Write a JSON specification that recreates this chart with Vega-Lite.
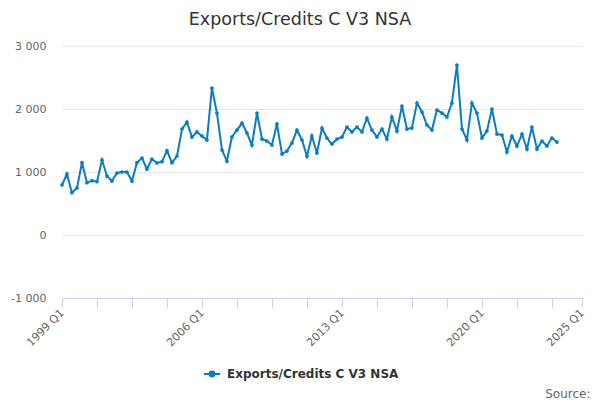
{
  "$schema": "https://vega.github.io/schema/vega-lite/v6.json",
  "autosize": "none",
  "width": 520,
  "height": 252,
  "padding": {"left": 62, "top": 46, "right": 18, "bottom": 102},
  "background": "#ffffff",
  "title": {
    "text": "Exports/Credits C V3 NSA",
    "anchor": "middle",
    "dx": -22,
    "offset": 12,
    "font": "DejaVu Sans",
    "fontSize": 17.5,
    "fontWeight": "normal",
    "color": "#333333"
  },
  "config": {
    "view": {"stroke": null},
    "font": "DejaVu Sans"
  },
  "data": {
    "values": [
      {"date": "1999-01-01", "value": 794},
      {"date": "1999-04-01", "value": 968},
      {"date": "1999-07-01", "value": 671},
      {"date": "1999-10-01", "value": 746},
      {"date": "2000-01-01", "value": 1147},
      {"date": "2000-04-01", "value": 830},
      {"date": "2000-07-01", "value": 862},
      {"date": "2000-10-01", "value": 846},
      {"date": "2001-01-01", "value": 1190},
      {"date": "2001-04-01", "value": 936},
      {"date": "2001-07-01", "value": 857},
      {"date": "2001-10-01", "value": 984},
      {"date": "2002-01-01", "value": 1000},
      {"date": "2002-04-01", "value": 1000},
      {"date": "2002-07-01", "value": 857},
      {"date": "2002-10-01", "value": 1147},
      {"date": "2003-01-01", "value": 1222},
      {"date": "2003-04-01", "value": 1047},
      {"date": "2003-07-01", "value": 1206},
      {"date": "2003-10-01", "value": 1143},
      {"date": "2004-01-01", "value": 1163},
      {"date": "2004-04-01", "value": 1338},
      {"date": "2004-07-01", "value": 1147},
      {"date": "2004-10-01", "value": 1254},
      {"date": "2005-01-01", "value": 1682},
      {"date": "2005-04-01", "value": 1793},
      {"date": "2005-07-01", "value": 1555},
      {"date": "2005-10-01", "value": 1635},
      {"date": "2006-01-01", "value": 1571},
      {"date": "2006-04-01", "value": 1508},
      {"date": "2006-07-01", "value": 2333},
      {"date": "2006-10-01", "value": 1936},
      {"date": "2007-01-01", "value": 1349},
      {"date": "2007-04-01", "value": 1174},
      {"date": "2007-07-01", "value": 1555},
      {"date": "2007-10-01", "value": 1666},
      {"date": "2008-01-01", "value": 1777},
      {"date": "2008-04-01", "value": 1619},
      {"date": "2008-07-01", "value": 1428},
      {"date": "2008-10-01", "value": 1936},
      {"date": "2009-01-01", "value": 1523},
      {"date": "2009-04-01", "value": 1492},
      {"date": "2009-07-01", "value": 1428},
      {"date": "2009-10-01", "value": 1762},
      {"date": "2010-01-01", "value": 1285},
      {"date": "2010-04-01", "value": 1333},
      {"date": "2010-07-01", "value": 1460},
      {"date": "2010-10-01", "value": 1666},
      {"date": "2011-01-01", "value": 1508},
      {"date": "2011-04-01", "value": 1250},
      {"date": "2011-07-01", "value": 1571},
      {"date": "2011-10-01", "value": 1301},
      {"date": "2012-01-01", "value": 1698},
      {"date": "2012-04-01", "value": 1539},
      {"date": "2012-07-01", "value": 1444},
      {"date": "2012-10-01", "value": 1523},
      {"date": "2013-01-01", "value": 1555},
      {"date": "2013-04-01", "value": 1714},
      {"date": "2013-07-01", "value": 1635},
      {"date": "2013-10-01", "value": 1714},
      {"date": "2014-01-01", "value": 1635},
      {"date": "2014-04-01", "value": 1857},
      {"date": "2014-07-01", "value": 1666},
      {"date": "2014-10-01", "value": 1555},
      {"date": "2015-01-01", "value": 1682},
      {"date": "2015-04-01", "value": 1523},
      {"date": "2015-07-01", "value": 1873},
      {"date": "2015-10-01", "value": 1650},
      {"date": "2016-01-01", "value": 2047},
      {"date": "2016-04-01", "value": 1682},
      {"date": "2016-07-01", "value": 1698},
      {"date": "2016-10-01", "value": 2095},
      {"date": "2017-01-01", "value": 1952},
      {"date": "2017-04-01", "value": 1746},
      {"date": "2017-07-01", "value": 1666},
      {"date": "2017-10-01", "value": 1984},
      {"date": "2018-01-01", "value": 1936},
      {"date": "2018-04-01", "value": 1873},
      {"date": "2018-07-01", "value": 2095},
      {"date": "2018-10-01", "value": 2698},
      {"date": "2019-01-01", "value": 1682},
      {"date": "2019-04-01", "value": 1508},
      {"date": "2019-07-01", "value": 2095},
      {"date": "2019-10-01", "value": 1936},
      {"date": "2020-01-01", "value": 1539},
      {"date": "2020-04-01", "value": 1650},
      {"date": "2020-07-01", "value": 2000},
      {"date": "2020-10-01", "value": 1603},
      {"date": "2021-01-01", "value": 1587},
      {"date": "2021-04-01", "value": 1317},
      {"date": "2021-07-01", "value": 1571},
      {"date": "2021-10-01", "value": 1412},
      {"date": "2022-01-01", "value": 1603},
      {"date": "2022-04-01", "value": 1365},
      {"date": "2022-07-01", "value": 1714},
      {"date": "2022-10-01", "value": 1365},
      {"date": "2023-01-01", "value": 1492},
      {"date": "2023-04-01", "value": 1412},
      {"date": "2023-07-01", "value": 1539},
      {"date": "2023-10-01", "value": 1476}
    ]
  },
  "mark": {
    "type": "line",
    "strokeWidth": 2,
    "point": {"filled": true, "size": 14, "color": "#0a7cc1"}
  },
  "encoding": {
    "x": {
      "field": "date",
      "type": "temporal",
      "scale": {
        "type": "utc",
        "domain": [
          {"year": 1999, "month": 1, "date": 1, "utc": true},
          {"year": 2025, "month": 1, "date": 1, "utc": true}
        ]
      },
      "axis": {
        "title": "Source:",
        "titleAnchor": "end",
        "titleAlign": "right",
        "titleBaseline": "alphabetic",
        "titleX": 528,
        "titleY": 99,
        "titleFontSize": 12,
        "titleFontWeight": "normal",
        "titleColor": "#666666",
        "values": [
          {"year": 1999, "month": 1, "date": 1, "utc": true},
          {"year": 2000, "month": 10, "date": 1, "utc": true},
          {"year": 2002, "month": 7, "date": 1, "utc": true},
          {"year": 2004, "month": 4, "date": 1, "utc": true},
          {"year": 2006, "month": 1, "date": 1, "utc": true},
          {"year": 2007, "month": 10, "date": 1, "utc": true},
          {"year": 2009, "month": 7, "date": 1, "utc": true},
          {"year": 2011, "month": 4, "date": 1, "utc": true},
          {"year": 2013, "month": 1, "date": 1, "utc": true},
          {"year": 2014, "month": 10, "date": 1, "utc": true},
          {"year": 2016, "month": 7, "date": 1, "utc": true},
          {"year": 2018, "month": 4, "date": 1, "utc": true},
          {"year": 2020, "month": 1, "date": 1, "utc": true},
          {"year": 2021, "month": 10, "date": 1, "utc": true},
          {"year": 2023, "month": 7, "date": 1, "utc": true},
          {"year": 2025, "month": 1, "date": 1, "utc": true}
        ],
        "labelExpr": "(utcmonth(datum.value) == 0 && (utcyear(datum.value) - 1999) % 7 == 0) || utcyear(datum.value) == 2025 ? utcFormat(datum.value, '%Y') + ' Q1' : ''",
        "labelAngle": 315,
        "labelAlign": "right",
        "labelBaseline": "middle",
        "labelPadding": 3,
        "labelFontSize": 11,
        "labelColor": "#666666",
        "labelOverlap": false,
        "labelFlush": false,
        "grid": false,
        "domainColor": "#ccd6eb",
        "tickColor": "#ccd6eb",
        "tickSize": 10
      }
    },
    "y": {
      "field": "value",
      "type": "quantitative",
      "scale": {"domain": [-1000, 3000], "nice": false, "zero": false},
      "axis": {
        "title": null,
        "values": [-1000, 0, 1000, 2000, 3000],
        "labelExpr": "replace(replace(format(datum.value, ','), ',', ' '), '\u2212', '-')",
        "labelFontSize": 11,
        "labelColor": "#666666",
        "labelPadding": 16,
        "domain": false,
        "ticks": false,
        "gridColor": "#e6e6e6",
        "gridWidth": 1
      }
    },
    "color": {
      "datum": "Exports/Credits C V3 NSA",
      "type": "nominal",
      "scale": {"range": ["#0a7cc1"]},
      "legend": {
        "title": null,
        "orient": "none",
        "legendX": 141,
        "legendY": 319,
        "padding": 0,
        "symbolType": "M-1,0L1,0M-0.3,0A0.3,0.3,0,1,1,0.3,0A0.3,0.3,0,1,1,-0.3,0Z",
        "symbolSize": 256,
        "symbolStrokeWidth": 2,
        "symbolFillColor": "#0a7cc1",
        "labelFontSize": 12,
        "labelFontWeight": "bold",
        "labelColor": "#333333",
        "labelOffset": 6,
        "labelLimit": 400
      }
    }
  }
}
